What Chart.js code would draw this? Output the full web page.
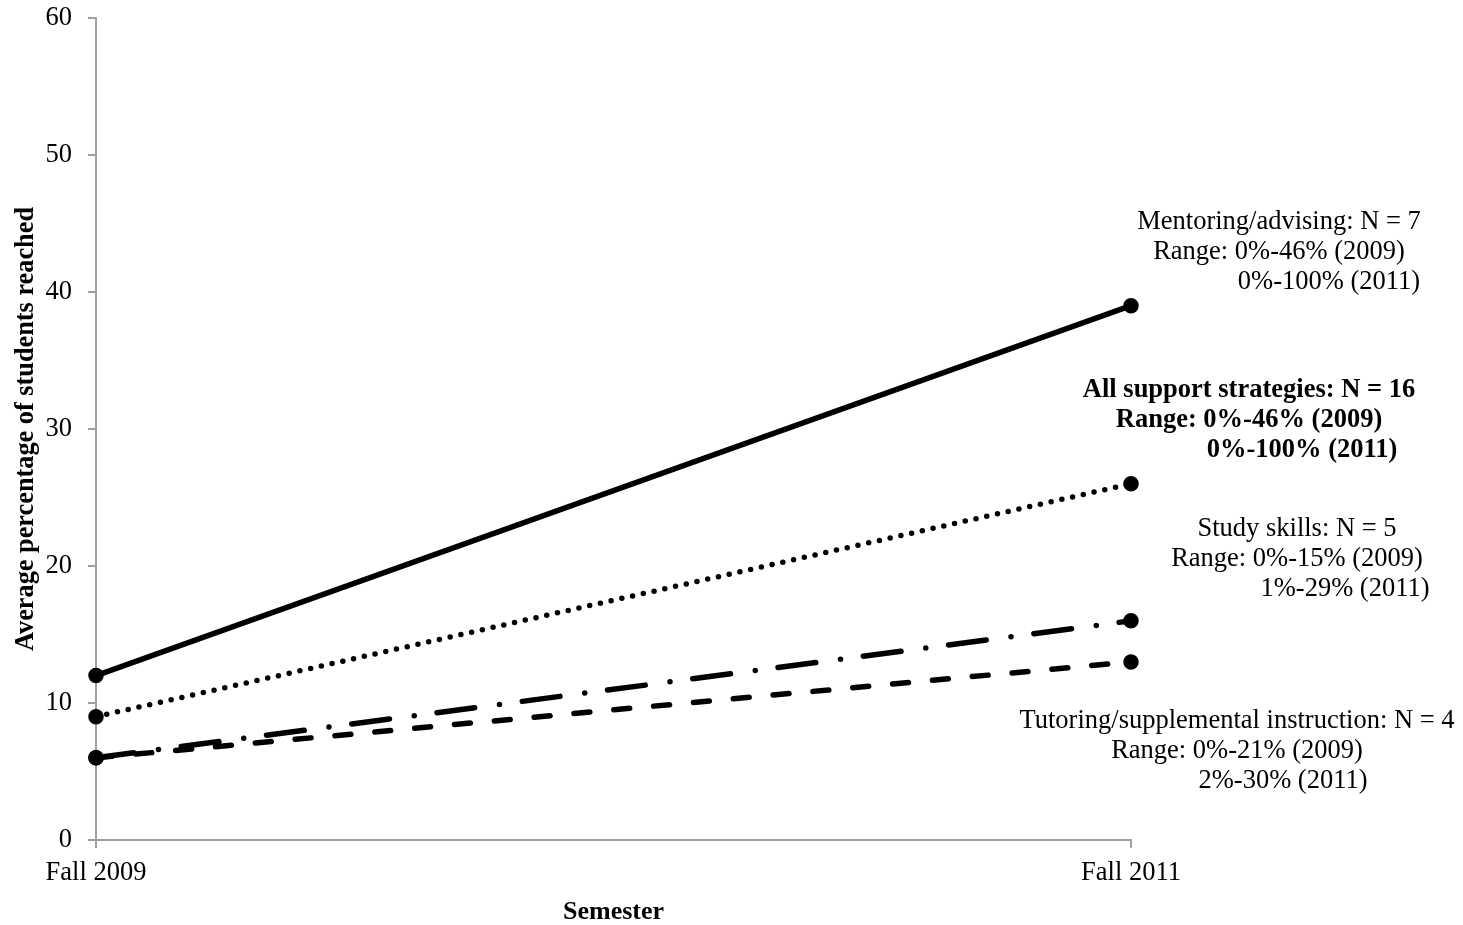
<!DOCTYPE html>
<html>
<head>
<meta charset="utf-8">
<script src="https://cdn.jsdelivr.net/npm/chart.js@4/dist/chart.umd.min.js"></script>
<style>
  html, body { margin: 0; padding: 0; background: #ffffff; }
  #wrap { width: 1463px; height: 925px; position: relative; }
</style>
</head>
<body>
<div id="wrap"><canvas id="chart" width="1463" height="925"></canvas></div>
<script>
// Semesters on the x axis
const semesters = ['Fall 2009', 'Fall 2011'];

// Average percentage of students reached, per support strategy
const mentoring = [12, 39];
const allStrategies = [9, 26];
const studySkills = [6, 16];
const tutoring = [6, 13];

// Y axis range
const yTicks = [0, 10, 20, 30, 40, 50, 60];

// Notes printed beside the Fall 2011 end of each line
const mentoringNote = ['Mentoring/advising: N = 7', 'Range: 0%-46% (2009)', '0%-100% (2011)'];
const allNote = ['All support strategies: N = 16', 'Range: 0%-46% (2009)', '0%-100% (2011)'];
const studyNote = ['Study skills: N = 5', 'Range: 0%-15% (2009)', '1%-29% (2011)'];
const tutoringNote = ['Tutoring/supplemental instruction: N = 4', 'Range: 0%-21% (2009)', '2%-30% (2011)'];

const SERIF = "'Times New Roman', 'Liberation Serif', serif";
const AXIS_GRAY = '#a0a0a0';

// Note blocks: horizontal centers of each line (relative to the right edge of the plot)
// and baseline of the first line; lines are 30px apart.
const noteBlocks = [
  { lines: mentoringNote, bold: false, dx: [148, 148, 198], top: 229 },
  { lines: allNote,       bold: true,  dx: [118, 118, 171], top: 397 },
  { lines: studyNote,     bold: false, dx: [166, 166, 214], top: 536 },
  { lines: tutoringNote,  bold: false, dx: [106, 106, 152], top: 728 }
];

const notesPlugin = {
  id: 'notes',
  afterDraw(chart) {
    const ctx = chart.ctx;
    const right = chart.chartArea.right;
    ctx.save();
    ctx.fillStyle = '#000000';
    ctx.textAlign = 'center';
    ctx.textBaseline = 'alphabetic';
    noteBlocks.forEach(b => {
      ctx.font = (b.bold ? 'bold ' : '') + '26.5px ' + SERIF;
      b.lines.forEach((t, i) => {
        ctx.fillText(t, right + b.dx[i], b.top + i * 30);
      });
    });
    ctx.restore();
  }
};

const common = {
  borderColor: '#000000',
  backgroundColor: '#000000',
  pointBackgroundColor: '#000000',
  pointBorderColor: '#000000',
  pointRadius: 7,
  pointBorderWidth: 1.5,
  borderWidth: 5.5,
  borderCapStyle: 'round',
  tension: 0,
  fill: false,
  clip: false
};

new Chart(document.getElementById('chart'), {
  type: 'line',
  data: {
    labels: semesters,
    datasets: [
      Object.assign({}, common, { label: 'Tutoring/supplemental instruction', data: tutoring, borderDash: [16, 24] }),
      Object.assign({}, common, { label: 'Study skills', data: studySkills, borderDash: [38, 25, 0, 23] }),
      Object.assign({}, common, { label: 'All support strategies', data: allStrategies, borderDash: [0, 11] }),
      Object.assign({}, common, { label: 'Mentoring/advising', data: mentoring })
    ]
  },
  options: {
    responsive: false,
    animation: false,
    devicePixelRatio: 1,
    layout: { padding: { top: 18, right: 332, bottom: 0, left: 0 } },
    plugins: {
      legend: { display: false },
      tooltip: { enabled: false }
    },
    scales: {
      x: {
        type: 'category',
        offset: false,
        grid: { display: true, drawOnChartArea: false, drawTicks: true, tickLength: 8, color: AXIS_GRAY, lineWidth: 2 },
        border: { display: true, color: AXIS_GRAY, width: 2 },
        ticks: { color: '#000000', font: { family: SERIF, size: 26.5 }, padding: 9, maxRotation: 0 },
        title: { display: true, text: 'Semester', color: '#000000', font: { family: SERIF, size: 26, weight: 'bold', lineHeight: 1 }, padding: { top: 0, bottom: 0 } },
        afterFit(scale) {
          scale.height = 85;
          scale.paddingLeft = 0;
          scale.paddingRight = 0;
        }
      },
      y: {
        min: yTicks[0],
        max: yTicks[yTicks.length - 1],
        grid: { display: true, drawOnChartArea: false, drawTicks: true, tickLength: 8, color: AXIS_GRAY, lineWidth: 2 },
        border: { display: true, color: AXIS_GRAY, width: 2 },
        ticks: { color: '#000000', font: { family: SERIF, size: 26.5 }, padding: 16, stepSize: 10 },
        afterBuildTicks(scale) { scale.ticks = yTicks.map(v => ({ value: v })); },
        title: { display: true, text: 'Average percentage of students reached', color: '#000000', font: { family: SERIF, size: 26.3, weight: 'bold', lineHeight: 1 }, padding: { top: 13, bottom: 0 } },
        afterFit(scale) {
          scale.width = 96;
          scale.paddingTop = 0;
          scale.paddingBottom = 0;
        }
      }
    }
  },
  plugins: [notesPlugin]
});
</script>
</body>
</html>
